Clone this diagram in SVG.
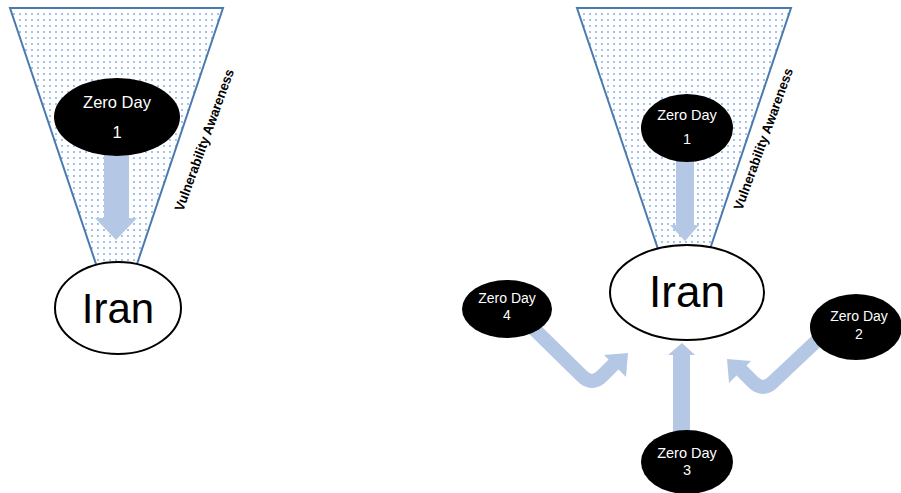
<svg xmlns="http://www.w3.org/2000/svg" width="901" height="493" viewBox="0 0 901 493">
<style>
.funnel{fill:url(#dots);stroke:#4a7ab0;stroke-width:2}
.arrow{fill:#b4c8e6;stroke:none}
.bend{fill:none;stroke:#b4c8e6;stroke-width:14}
.zd{fill:#000}
.iran{fill:#fff;stroke:#000;stroke-width:2}
.zt{font-family:"Liberation Sans",Arial,sans-serif;fill:#fff;text-anchor:middle}
.it{font-family:"Liberation Sans",Arial,sans-serif;fill:#000;text-anchor:middle}
.va{font-family:"Liberation Sans",Arial,sans-serif;font-weight:bold;font-size:13.5px;fill:#000}
</style>
<defs>
<pattern id="dots" width="6" height="6" patternUnits="userSpaceOnUse">
<rect width="6" height="6" fill="#fff"/>
<rect x="1" y="1" width="2" height="2" fill="#a3c4ee"/>
</pattern>
</defs>
<g id="funnel-left"><polygon class="funnel" points="10,8 223,8 135,270 98,270"/>
<text class="va" transform="translate(183,212) rotate(-70)" textLength="150" lengthAdjust="spacingAndGlyphs">Vulnerability Awareness</text></g>
<g id="funnel-right"><polygon class="funnel" points="577,8 791,8 708,255 660,255"/>
<text class="va" transform="translate(742,211) rotate(-70)" textLength="150" lengthAdjust="spacingAndGlyphs">Vulnerability Awareness</text></g>
<g id="connectors">
<polygon class="arrow" points="104,150 129,150 129,218 137,218 116,240 95,218 104,218"/>
<polygon class="arrow" points="676,155 694,155 694,225 699,225 685,241 670,225 676,225"/>
<polygon class="arrow" points="673,440 690,440 690,355 695,355 682,343 668,355 673,355"/>
<path class="bend" d="M530,325 L582,376 Q592,386 602,376 L616,362"/>
<polygon class="arrow" points="604,355 626,377 628,353"/>
<path class="bend" d="M825,333 L773,382 Q763,392 753,382 L739,368"/>
<polygon class="arrow" points="751,361 729,383 727,359"/>
</g>
<g id="zd1-left"><ellipse class="zd" cx="117" cy="117" rx="63" ry="39"/>
<text class="zt" x="117" y="108" font-size="16.5">Zero Day</text><text class="zt" x="117" y="138" font-size="16.5">1</text></g>
<g id="iran-left"><ellipse class="iran" cx="118" cy="308" rx="63" ry="46"/>
<text class="it" x="118" y="323" font-size="42">Iran</text></g>
<g id="zd1-right"><ellipse class="zd" cx="687" cy="128" rx="46" ry="34"/>
<text class="zt" x="687" y="120" font-size="14.5">Zero Day</text><text class="zt" x="687" y="144" font-size="14.5">1</text></g>
<g id="iran-right"><ellipse class="iran" cx="687" cy="292.5" rx="77" ry="47.5"/>
<text class="it" x="687" y="307" font-size="44">Iran</text></g>
<g id="zd4"><ellipse class="zd" cx="507" cy="309" rx="45" ry="29"/>
<text class="zt" x="507" y="303" font-size="14">Zero Day</text><text class="zt" x="507" y="320" font-size="14">4</text></g>
<g id="zd2"><ellipse class="zd" cx="856" cy="327" rx="46" ry="33"/>
<text class="zt" x="859" y="321" font-size="14">Zero Day</text><text class="zt" x="859" y="339" font-size="14">2</text></g>
<g id="zd3"><ellipse class="zd" cx="687" cy="462" rx="46" ry="32"/>
<text class="zt" x="687" y="458" font-size="14.5">Zero Day</text><text class="zt" x="687" y="475" font-size="14.5">3</text></g>
</svg>
